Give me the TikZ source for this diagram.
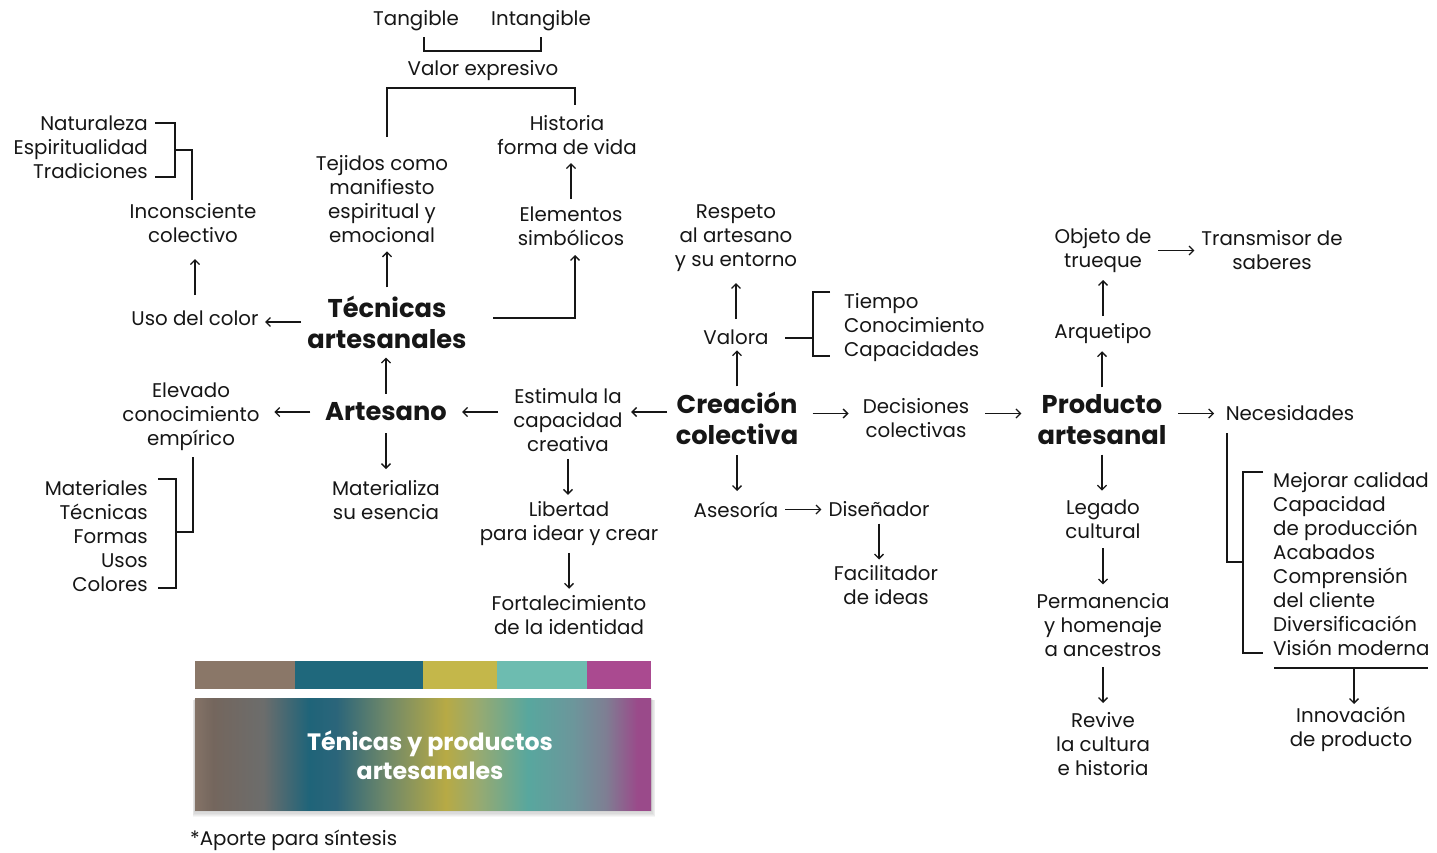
\documentclass[tikz,border=0pt]{standalone}
\usepackage{fontspec}
\setmainfont{Poppins}
\usetikzlibrary{arrows.meta,calc}

% palette
\definecolor{ink}{HTML}{161616}
\definecolor{barBrown}{HTML}{8A7768}
\definecolor{barTeal}{HTML}{1F687C}
\definecolor{barOlive}{HTML}{C4B74A}
\definecolor{barAqua}{HTML}{6DBCB0}
\definecolor{barMag}{HTML}{AA4A90}
\definecolor{gA}{HTML}{847367}
\definecolor{gB}{HTML}{74665D}
\definecolor{gC}{HTML}{6C6D6C}
\definecolor{gD}{HTML}{1F6479}
\definecolor{gE}{HTML}{2B657A}
\definecolor{gF}{HTML}{6F8869}
\definecolor{gG}{HTML}{B7AA45}
\definecolor{gH}{HTML}{98AA70}
\definecolor{gI}{HTML}{58A79E}
\definecolor{gJ}{HTML}{6C969B}
\definecolor{gK}{HTML}{7E7F93}
\definecolor{gL}{HTML}{9A4A8A}

% the band is mapped onto the 25bp..75bp part of the shading
\pgfdeclarehorizontalshading{bandshade}{100bp}{%
  color(0bp)=(gA); color(25bp)=(gA); color(27bp)=(gB); color(32.5bp)=(gC);
  color(37.5bp)=(gD); color(40.5bp)=(gE); color(46bp)=(gF); color(52.5bp)=(gG);
  color(56bp)=(gH); color(61.5bp)=(gI); color(66.5bp)=(gJ); color(70bp)=(gK);
  color(73.5bp)=(gL); color(75bp)=(gL); color(100bp)=(gL)}

\tikzset{
  txt/.style={font=\fontsize{19.8}{24}\selectfont, align=center, inner sep=0pt, text=ink, yshift=-1.5pt},
  lefttxt/.style={txt, align=left, anchor=west},
  righttxt/.style={txt, align=right, anchor=east},
  hd/.style={font=\fontsize{25.7}{31}\selectfont\bfseries, align=center, inner sep=0pt, text=ink, yshift=-1pt},
  link/.style={line width=1.3pt, draw=ink},
  arr/.style={link, -{Straight Barb[length=4.5pt,width=9pt]}},
}

% centred arrow of fixed length between two points
\newcommand\linkarrow[2]{%
  \path ($(#1)!.5!(#2)$) coordinate (lnkmid);
  \draw[arr] ($(lnkmid)!18pt!(#1)$) -- ($(lnkmid)!18pt!(#2)$);}

\begin{document}
\begin{tikzpicture}[x=1pt,y=-1pt]
\useasboundingbox[fill=white] (0,0) rectangle (1437,852);

% ---------- left half ----------
\node[txt] (tang)   at (416,19) {Tangible};
\node[txt] (intang) at (541,19) {Intangible};
\node[txt] (valor)  at (483,69) {Valor expresivo};
\node[txt] (tej)    at (382,198) {Tejidos como\\manifiesto\\espiritual y\\emocional};
\node[txt] (hist)   at (567,134) {Historia\\forma de vida};
\node[txt] (elem)   at (571,225) {Elementos\\simbólicos};
\node[hd]  (tec)    at (387,321) {Técnicas\\artesanales};
\node[txt] (uso)    at (195,317) {Uso del color};
\node[txt] (inc)    at (193,222) {Inconsciente\\colectivo};
\node[righttxt] (nat) at (148,146) {Naturaleza\\Espiritualidad\\Tradiciones};
\node[hd]  (art)    at (386,411) {Artesano};
\node[txt] (elev)   at (191,415) {Elevado\\conocimiento\\empírico};
\node[righttxt] (mat) at (148,535) {Materiales\\Técnicas\\Formas\\Usos\\Colores};
\node[txt] (matz)   at (386,499) {Materializa\\su esencia};
\node[txt] (est)    at (568,419) {Estimula la\\capacidad\\creativa};
\node[txt] (lib)    at (569,522) {Libertad\\para idear y crear};
\node[txt] (fort)   at (569,614) {Fortalecimiento\\de la identidad};

% ---------- centre ----------
\node[hd]  (crea)   at (737,417) {Creación\\colectiva};
\node[txt] (valora) at (736,336) {Valora};
\node[txt] (resp)   at (736,237) {Respeto\\al artesano\\y su entorno};
\node[lefttxt] (tiem) at (844,326) {Tiempo\\Conocimiento\\Capacidades};
\node[txt] (dec)    at (916,417) {Decisiones\\colectivas};
\node[txt] (ases)   at (736,508) {Asesoría};
\node[txt] (dise)   at (879,508) {Diseñador};
\node[txt] (fac)    at (886,584) {Facilitador\\de ideas};

% ---------- right half ----------
\node[hd]  (prod)   at (1102,419) {Producto\\artesanal};
\node[txt] (arq)    at (1103,332) {Arquetipo};
\node[txt] (obj)    at (1103,249) {Objeto de\\trueque};
\node[txt] (trans)  at (1272,249) {Transmisor de\\saberes};
\node[txt] (nec)    at (1290,412) {Necesidades};
\node[lefttxt] (mej) at (1273,563) {Mejorar calidad\\Capacidad\\de producción\\Acabados\\Comprensión\\del cliente\\Diversificación\\Visión moderna};
\node[txt] (innov)  at (1351,728) {Innovación\\de producto};
\node[txt] (leg)    at (1103,518) {Legado\\cultural};
\node[txt] (perm)   at (1103,624) {Permanencia\\y homenaje\\a ancestros};
\node[txt] (rev)    at (1103,743) {Revive\\la cultura\\e historia};

% ---------- brackets and elbows ----------
\draw[link] (424,37) -- (424,51) -- (541,51) -- (541,37);
\draw[link] (387,137) -- (387,88) -- (575,88) -- (575,105);
\draw[arr]  (493,318) -| (575,255);
\draw[link] (155,123) -- (175,123) -- (175,177) -- (155,177);
\draw[link] (175,150) -| (192,200);
\draw[link] (158,479) -- (176,479) -- (176,588) -- (158,588);
\draw[link] (176,532) -| (193,457);
\draw[link] (785,338) -- (813,338);
\draw[link] (830,292) -- (813,292) -- (813,356) -- (830,356);
\draw[link] (1227,433) |- (1243,562);
\draw[link] (1263,472) -- (1243,472) -- (1243,653) -- (1263,653);
\draw[link] (1274,668) -- (1428,668);
\coordinate (innovtop) at (1354,668);
\draw[arr] (innovtop) -- (1354,704);

% ---------- straight arrows ----------
\linkarrow{tec.north}{tec.north |- tej.south}
\linkarrow{elem.north}{elem.north |- hist.south}
\linkarrow{uso.north}{uso.north |- inc.south}
\linkarrow{tec.west}{tec.west -| uso.east}
\linkarrow{art.north}{art.north |- tec.south}
\linkarrow{art.west}{art.west -| elev.east}
\linkarrow{art.south}{art.south |- matz.north}
\linkarrow{est.west |- art.east}{art.east}
\linkarrow{crea.west |- art.east}{est.east |- art.east}
\linkarrow{est.south}{est.south |- lib.north}
\linkarrow{lib.south}{lib.south |- fort.north}
\linkarrow{crea.north}{crea.north |- valora.south}
\linkarrow{valora.north}{valora.north |- resp.south}
\linkarrow{crea.south}{crea.south |- ases.north}
\linkarrow{crea.east |- nec.west}{dec.west |- nec.west}
\linkarrow{dec.east |- nec.west}{prod.west |- nec.west}
\linkarrow{prod.east |- nec.west}{nec.west}
\linkarrow{ases.east}{dise.west}
\linkarrow{dise.south}{dise.south |- fac.north}
\linkarrow{prod.north}{prod.north |- arq.south}
\linkarrow{arq.north}{arq.north |- obj.south}
\linkarrow{obj.east}{trans.west}
\linkarrow{prod.south}{prod.south |- leg.north}
\linkarrow{leg.south}{leg.south |- perm.north}
\linkarrow{perm.south}{perm.south |- rev.north}

% ---------- colour strip ----------
\fill[barBrown] (195,661) rectangle (295,689);
\fill[barTeal]  (295,661) rectangle (423,689);
\fill[barOlive] (423,661) rectangle (497,689);
\fill[barAqua]  (497,661) rectangle (587,689);
\fill[barMag]   (587,661) rectangle (651,689);

% soft shadow under the band
\foreach \s in {1,...,6}
  \fill[black, opacity=0.035] (195-\s*0.4,698+\s*0.4) rectangle (651+\s*0.7,810+\s*1.2);
\shade[shading=bandshade] (195,698) rectangle (651,810);
\node[font=\fontsize{23.7}{29}\selectfont\bfseries, text=white, align=center, inner sep=0pt]
  (band) at (430,755) {Ténicas y productos\\artesanales};

\node[txt, anchor=west] (note) at (190,839) {*Aporte para síntesis};
\end{tikzpicture}
\end{document}
